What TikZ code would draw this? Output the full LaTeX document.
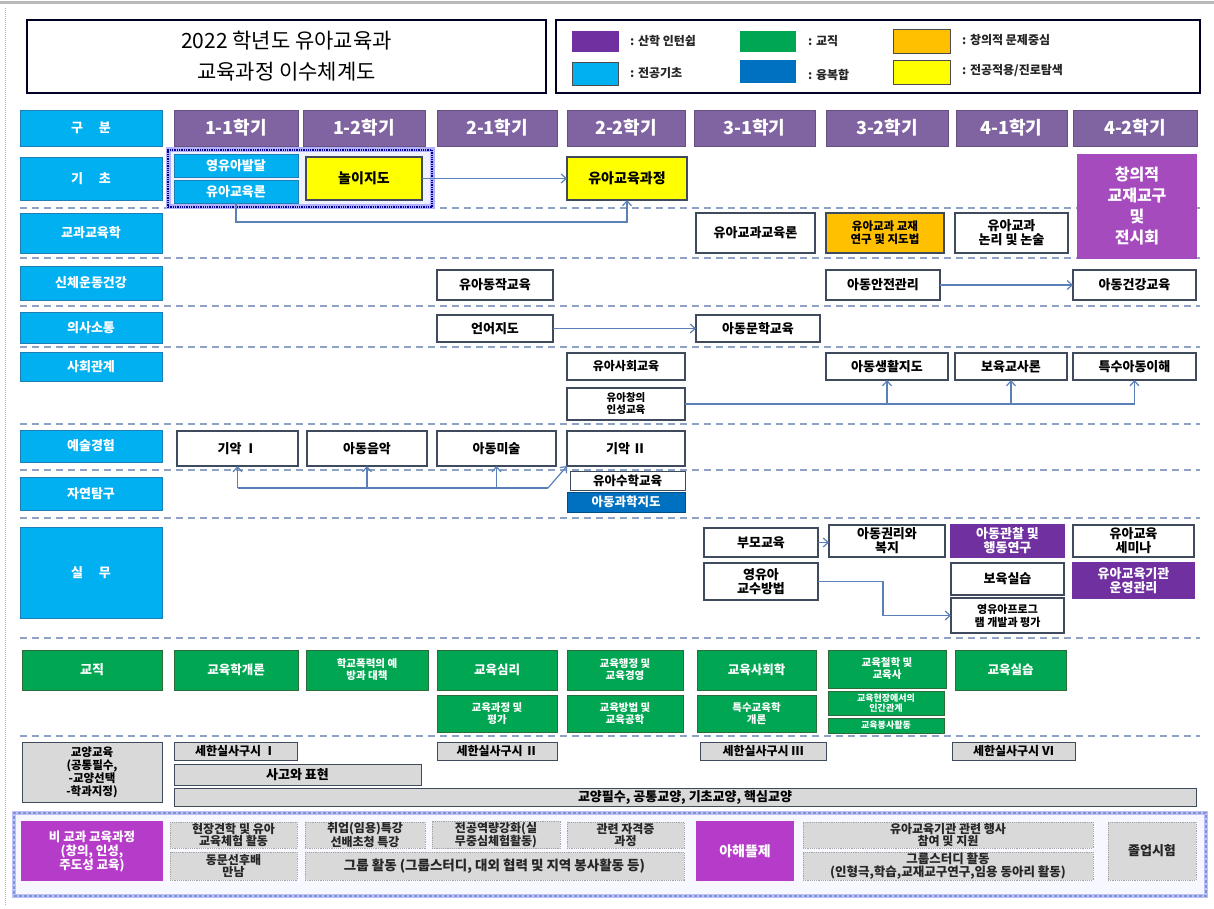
\documentclass[tikz,border=0pt]{standalone}
\usepackage{fontspec}
\setmainfont{Noto Sans CJK KR}
\usetikzlibrary{arrows.meta}
\definecolor{cyanH}{HTML}{00B0F0}
\definecolor{cyanB}{HTML}{1B7FB8}
\definecolor{semF}{HTML}{8064A2}
\definecolor{yel}{HTML}{FFFF00}
\definecolor{org}{HTML}{FFC000}
\definecolor{grn}{HTML}{00A651}
\definecolor{grnB}{HTML}{2E6B3A}
\definecolor{purD}{HTML}{7030A0}
\definecolor{bluD}{HTML}{0070C0}
\definecolor{mag}{HTML}{A54BBE}
\definecolor{magB}{HTML}{B53CC8}
\definecolor{gry}{HTML}{D9D9D9}
\definecolor{boxline}{HTML}{3F4A5C}
\definecolor{conn}{HTML}{5B80B8}
\definecolor{sep}{HTML}{8DA2C4}
\newcommand\cell[6][]{\node[#1,minimum width={(#4-#2)*1pt},minimum height={(#5-#3)*1pt}] (#6) at ({(#2+#4)/2},{(#3+#5)/2})}
\tikzset{
  base/.style={draw, line width=1.2pt, inner sep=0.5pt, outer sep=0pt, align=center, font=\bfseries\fontsize{13}{14}\selectfont},
  wbox/.style={base, draw=boxline, fill=white, text=black},
  small/.style={font=\bfseries\fontsize{10.5}{12}\selectfont},
  tiny/.style={font=\bfseries\fontsize{9}{10}\selectfont},
  hdr/.style={base, draw=cyanB, line width=0.8pt, fill=cyanH, text=white, font=\bfseries\fontsize{13}{15}\selectfont},
  sem/.style={base, draw=semF!80!black, line width=0.8pt, fill=semF, text=white, font=\bfseries\fontsize{18}{20}\selectfont},
  ybox/.style={base, draw=boxline, fill=yel, text=black, font=\bfseries\fontsize{14}{16}\selectfont},
  obox/.style={base, draw=boxline, fill=org, text=black, font=\bfseries\fontsize{11.5}{13}\selectfont},
  cbox/.style={base, draw=cyanB, line width=0.8pt, fill=cyanH, text=white},
  gbox/.style={base, draw=grnB, line width=0.8pt, fill=grn, text=white, font=\bfseries\fontsize{12.5}{14}\selectfont},
  pbox/.style={base, draw=purD, fill=purD, text=white},
  bbox/.style={base, draw=bluD!70!black, line width=0.8pt, fill=bluD, text=white},
  qbox/.style={base, draw=boxline, line width=1pt, fill=gry, text=black, font=\bfseries\fontsize{12}{13}\selectfont},
  nbox/.style={base, draw=gray!70, densely dotted, line width=1pt, fill=gry, text=black!85, font=\bfseries\fontsize{12}{12.5}\selectfont},
  mbox/.style={base, draw=magB, fill=magB, text=white, font=\bfseries\fontsize{12.5}{14}\selectfont},
  sw/.style={draw=gray!60!black, line width=0.6pt, inner sep=0pt, outer sep=0pt},
  lgt/.style={inner sep=0pt, font=\bfseries\fontsize{12}{14}\selectfont, text=black!85},
  seprule/.style={draw=sep, line width=2pt, dash pattern=on 7pt off 5pt},
  link/.style={draw=conn, line width=1.2pt},
  arr/.style={link, -{Straight Barb[length=5pt,width=9pt]}},
}
\begin{document}
\begin{tikzpicture}[x=1pt,y=-1pt]
\useasboundingbox (0,0) rectangle (1214,909);
\fill[white] (0,0) rectangle (1214,909);
\draw[gray!55, line width=3pt] (0,3) -- (1214,3);
\draw[gray!60, densely dotted, line width=1pt] (5,8) -- (5,905);

% title and legend
\cell[draw=black!85!blue, line width=2.2pt, fill=white, align=center, font=\fontsize{21}{31}\selectfont]{27}{20}{546}{93}{title}{2022 학년도 유아교육과\\교육과정 이수체계도};
\cell[draw=black!85!blue, line width=2.2pt, fill=white]{556}{20}{1200}{93}{legend}{};
\cell[sw, fill=purD, draw=purD]{572}{31}{618}{51}{lg1}{};
\node[lgt, anchor=west] (lt1) at (630,41) {: 산학 인턴쉽};
\cell[sw, fill=cyanH]{572}{62}{618}{85}{lg2}{};
\node[lgt, anchor=west] (lt2) at (630,73) {: 전공기초};
\cell[sw, fill=grn, draw=grn]{740}{31}{795}{51}{lg3}{};
\node[lgt, anchor=west] (lt3) at (808,41) {: 교직};
\cell[sw, fill=bluD, draw=bluD]{740}{60}{795}{82}{lg4}{};
\node[lgt, anchor=west] (lt4) at (808,75) {: 융복합};
\cell[sw, fill=org]{893}{29}{950}{53}{lg5}{};
\node[lgt, anchor=west] (lt5) at (962,40) {: 창의적 문제중심};
\cell[sw, fill=yel]{893}{60}{950}{84}{lg6}{};
\node[lgt, anchor=west] (lt6) at (962,71) {: 전공적용/진로탐색};

% separators
\foreach \yy in {208,258,306,347,424,470,518,638,736}
  \draw[seprule] (20,\yy) -- (1200,\yy);

% header row
\cell[hdr]{20}{110}{162}{146}{h0}{구 \quad 분};
\cell[sem]{174}{110}{298}{146}{s11}{1-1학기};
\cell[sem]{303}{110}{425}{146}{s12}{1-2학기};
\cell[sem]{437}{110}{557}{146}{s21}{2-1학기};
\cell[sem]{567}{110}{685}{146}{s22}{2-2학기};
\cell[sem]{694}{110}{815}{146}{s31}{3-1학기};
\cell[sem]{826}{110}{948}{146}{s32}{3-2학기};
\cell[sem]{956}{110}{1067}{146}{s41}{4-1학기};
\cell[sem]{1073}{110}{1197}{146}{s42}{4-2학기};

% row headers
\cell[hdr]{20}{157}{162}{200}{h1}{기 \quad 초};
\cell[hdr]{20}{213}{162}{253}{h2}{교과교육학};
\cell[hdr]{20}{266}{162}{300}{h3}{신체운동건강};
\cell[hdr]{20}{312}{162}{343}{h4}{의사소통};
\cell[hdr]{20}{352}{162}{381}{h5}{사회관계};
\cell[hdr]{20}{430}{162}{462}{h6}{예술경험};
\cell[hdr]{20}{477}{162}{510}{h7}{자연탐구};
\cell[hdr]{20}{527}{162}{618}{h8}{실 \quad 무};
\cell[gbox, font=\bfseries\fontsize{13}{15}\selectfont]{22}{650}{162}{690}{h9}{교직};
\cell[qbox, font=\bfseries\fontsize{11.5}{13}\selectfont]{22}{742}{162}{802}{h10}{교양교육\\(공통필수,\\-교양선택\\-학과지정)};

% basics row
\cell[draw=blue!30, line width=5pt, fill=blue!6]{168}{150}{432}{207}{grpglow}{};
\cell[draw=blue!60!black, densely dotted, line width=1.3pt]{168}{150}{432}{207}{grp}{};
\cell[cbox]{174}{154}{298}{177}{yb}{영유아발달};
\cell[cbox]{174}{180}{298}{203}{yg}{유아교육론};
\cell[ybox]{306}{157}{422}{200}{nol}{놀이지도};
\cell[ybox]{567}{157}{687}{200}{ygj}{유아교육과정};
\cell[base, draw=mag, fill=mag, text=white, font=\bfseries\fontsize{16}{21}\selectfont]{1078}{155}{1196}{258}{chang}{창의적\\교재교구\\및\\전시회};

% subject education
\cell[wbox]{696}{213}{815}{253}{gk1}{유아교과교육론};
\cell[obox]{826}{213}{944}{253}{gk2}{유아교과 교재\\연구 및 지도법};
\cell[wbox]{955}{213}{1068}{253}{gk3}{유아교과\\논리 및 논술};

% physical
\cell[wbox]{437}{270}{553}{300}{dj}{유아동작교육};
\cell[wbox]{826}{270}{940}{300}{aj}{아동안전관리};
\cell[wbox]{1073}{270}{1196}{300}{ag}{아동건강교육};

% communication
\cell[wbox]{437}{315}{553}{342}{eo}{언어지도};
\cell[wbox]{696}{315}{820}{342}{mh}{아동문학교육};

% social
\cell[wbox, font=\bfseries\fontsize{12}{13}\selectfont]{567}{353}{685}{380}{sh}{유아사회교육};
\cell[wbox, small]{567}{388}{685}{420}{is}{유아창의\\인성교육};
\cell[wbox]{826}{353}{948}{380}{sw1}{아동생활지도};
\cell[wbox]{955}{353}{1067}{380}{bg}{보육교사론};
\cell[wbox]{1073}{353}{1196}{380}{ts}{특수아동이해};

% arts
\cell[wbox]{177}{431}{298}{466}{ga1}{기악 Ⅰ};
\cell[wbox]{307}{431}{427}{466}{am}{아동음악};
\cell[wbox]{437}{431}{556}{466}{ams}{아동미술};
\cell[wbox]{567}{431}{685}{466}{ga2}{기악 Ⅱ};

% nature
\cell[wbox, line width=1pt, font=\bfseries\fontsize{12.5}{13}\selectfont]{570}{471}{685}{490}{sm}{유아수학교육};
\cell[bbox, font=\bfseries\fontsize{12.5}{13}\selectfont]{567}{492}{685}{512}{gh}{아동과학지도};

% practice
\cell[wbox]{704}{528}{818}{557}{bm}{부모교육};
\cell[wbox]{829}{525}{945}{557}{gr}{아동권리와\\복지};
\cell[pbox]{951}{525}{1064}{557}{gc}{아동관찰 및\\행동연구};
\cell[wbox]{1073}{525}{1194}{557}{sem1}{유아교육\\세미나};
\cell[wbox]{704}{563}{818}{600}{gs}{영유아\\교수방법};
\cell[wbox]{951}{563}{1064}{595}{bs}{보육실습};
\cell[pbox]{1073}{563}{1194}{598}{ug}{유아교육기관\\운영관리};
\cell[wbox, font=\bfseries\fontsize{11}{13}\selectfont]{951}{598}{1064}{633}{pg}{영유아프로그\\램 개발과 평가};

% teaching profession
\cell[gbox]{174}{650}{298}{690}{t1}{교육학개론};
\cell[gbox, small]{306}{650}{428}{690}{t2}{학교폭력의 예\\방과 대책};
\cell[gbox]{437}{650}{557}{690}{t3}{교육심리};
\cell[gbox, small]{567}{650}{683}{690}{t4}{교육행정 및\\교육경영};
\cell[gbox]{697}{650}{816}{690}{t5}{교육사회학};
\cell[gbox, small]{828}{650}{946}{688}{t6}{교육철학 및\\교육사};
\cell[gbox]{955}{650}{1066}{690}{t7}{교육실습};
\cell[gbox, small]{437}{695}{557}{732}{t8}{교육과정 및\\평가};
\cell[gbox, small]{567}{695}{683}{732}{t9}{교육방법 및\\교육공학};
\cell[gbox, small]{697}{695}{816}{732}{t10}{특수교육학\\개론};
\cell[gbox, tiny]{828}{691}{944}{715}{t11}{교육현장에서의\\인간관계};
\cell[gbox, tiny]{828}{718}{944}{733}{t12}{교육봉사활동};

% liberal arts
\cell[qbox]{174}{742}{297}{760}{l1}{세한실사구시 Ⅰ};
\cell[qbox]{437}{742}{557}{760}{l2}{세한실사구시 Ⅱ};
\cell[qbox]{700}{742}{826}{760}{l3}{세한실사구시 Ⅲ};
\cell[qbox]{952}{742}{1075}{760}{l4}{세한실사구시 Ⅵ};
\cell[qbox, font=\bfseries\fontsize{13}{14}\selectfont]{174}{764}{421}{785}{l5}{사고와 표현};
\cell[qbox, font=\bfseries\fontsize{13}{14}\selectfont]{174}{788}{1196}{806}{l6}{교양필수, 공통교양, 기초교양, 핵심교양};

% extracurricular
\cell[draw=blue!25, line width=4pt, fill=blue!3]{14}{813}{1206}{896}{ecglow}{};
\cell[draw=conn!80, densely dashed, line width=1.2pt]{14}{813}{1206}{896}{ec}{};
\cell[mbox]{22}{822}{162}{880}{h11}{비 교과 교육과정\\(창의, 인성,\\주도성 교육)};
\cell[nbox]{170}{822}{297}{848}{e1}{현장견학 및 유아\\교육체험 활동};
\cell[nbox]{305}{822}{425}{848}{e2}{취업(임용)특강\\선배초청 특강};
\cell[nbox]{432}{822}{560}{848}{e3}{전공역량강화(실\\무중심체험활동)};
\cell[nbox]{567}{822}{684}{848}{e4}{관련 자격증\\과정};
\cell[nbox]{170}{852}{297}{880}{e5}{동문선후배\\만남};
\cell[nbox, font=\bfseries\fontsize{13.5}{14}\selectfont]{305}{852}{684}{880}{e6}{그룹 활동 (그룹스터디, 대외 협력 및 지역 봉사활동 등)};
\cell[mbox, font=\bfseries\fontsize{14}{16}\selectfont]{697}{822}{793}{880}{e7}{아해뜰제};
\cell[nbox]{803}{822}{1093}{848}{e8}{유아교육기관 관련 행사\\참여 및 지원};
\cell[nbox, font=\bfseries\fontsize{12.5}{13}\selectfont]{803}{852}{1093}{880}{e9}{그룹스터디 활동\\(인형극,학습,교재교구연구,임용 동아리 활동)};
\cell[nbox, font=\bfseries\fontsize{13}{14}\selectfont]{1108}{822}{1196}{880}{e10}{졸업시험};

% connectors
\draw[arr] (nol.east) -- (ygj.west);
\draw[arr] (yg.south) -- ++(0,19) -| (ygj.south);
\draw[arr] (aj.east) -- (ag.west);
\draw[arr] (eo.east) -- (mh.west);
\draw[link] (is.east) -- (is.east -| ts.south);
\draw[arr] (is.east -| sw1.south) -- (sw1.south);
\draw[arr] (is.east -| bg.south) -- (bg.south);
\draw[arr] (is.east -| ts.south) -- (ts.south);
\coordinate (aj1) at (548,488);
\draw[link] (ga1.south |- aj1) -- (aj1);
\draw[arr] (aj1) -- (ga2.south west);
\draw[arr] (ga1.south |- aj1) -- (ga1.south);
\draw[arr] (am.south |- aj1) -- (am.south);
\draw[arr] (ams.south |- aj1) -- (ams.south);
\draw[arr] (bm.east) -- (bm.east -| gr.west);
\draw[arr] (gs.east) -- ++(65,0) |- (pg.west);
\end{tikzpicture}
\end{document}
